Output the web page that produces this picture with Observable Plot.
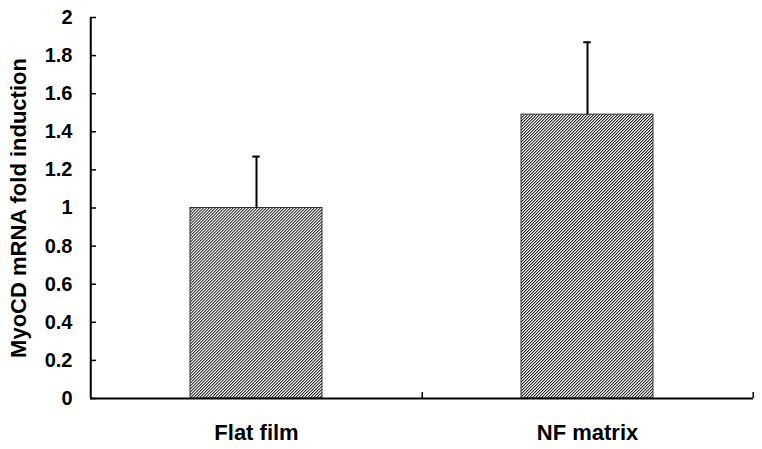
<!DOCTYPE html>
<html><head><meta charset="utf-8">
<script src="https://cdn.jsdelivr.net/npm/d3@7"></script>
<script src="https://cdn.jsdelivr.net/npm/@observablehq/plot@0.6"></script>
<style>body{margin:0;background:#fff} svg{display:block}</style>
</head><body><div id="chart"></div>
<script>
const categories = ["Flat film", "NF matrix"];
const means = [1.0, 1.49];
const errors = [0.27, 0.38];
const yTicks = [0, 0.2, 0.4, 0.6, 0.8, 1, 1.2, 1.4, 1.6, 1.8, 2];
const yLabel = "MyoCD mRNA fold induction";

const data = categories.map((c, i) => ({cat: c, value: means[i], upper: means[i] + errors[i]}));

const W = 762, H = 449, mL = 90, mR = 9, mT = 17, mB = 51;
const plotW = W - mL - mR, plotH = H - mT - mB;
const padInner = 0.6, padOuter = 0.3;
const step = plotW / (categories.length - padInner + 2 * padOuter);
const bw = step * (1 - padInner);
const capW = 8, tickLen = 6;
const font = "'Liberation Sans', Arial, sans-serif";

const chart = Plot.plot({
  width: W, height: H,
  marginLeft: mL, marginRight: mR, marginTop: mT, marginBottom: mB,
  style: {fontFamily: font, color: "#000", background: "#fff"},
  x: {domain: categories, paddingInner: padInner, paddingOuter: padOuter, axis: null},
  y: {domain: [0, 2], axis: null},
  marks: [
    Plot.barY(data, {x: "cat", y: "value", fill: "url(#hatch)", stroke: "#333", strokeWidth: 1}),
    Plot.ruleX(data, {x: "cat", y1: "value", y2: "upper", stroke: "#000", strokeWidth: 2}),
    Plot.tickY(data, {x: "cat", y: "upper", stroke: "#000", strokeWidth: 2, insetLeft: (bw - capW) / 2, insetRight: (bw - capW) / 2}),
    // axis lines
    Plot.ruleY([0], {stroke: "#000", strokeWidth: 2}),
    Plot.ruleX([categories[0]], {x: d => d, dx: -step / 2, stroke: "#000", strokeWidth: 2}),
    // inward ticks
    Plot.tickY(yTicks, {y: d => d, insetRight: plotW - tickLen, stroke: "#000", strokeWidth: 1.5}),
    Plot.tickX(categories, {x: d => d, dx: step / 2, insetTop: plotH - tickLen, stroke: "#000", strokeWidth: 1.5}),
    Plot.axisY(yTicks, {tickSize: 0, tickPadding: 18, fontSize: 20, fontWeight: "bold",
      tickFormat: d => String(+d.toFixed(1)), label: null}),
    Plot.axisY([], {tickSize: 0, fontSize: 22, fontWeight: "bold",
      label: yLabel, labelAnchor: "center", labelOffset: 80, labelArrow: false}),
    Plot.axisX(categories, {tickSize: 0, tickPadding: 26, fontSize: 22, fontWeight: "bold", label: null})
  ]
});

const defs = d3.select(chart).insert("defs", ":first-child");
const p = 2.12;
const pat = defs.append("pattern").attr("id", "hatch").attr("patternUnits", "userSpaceOnUse")
  .attr("width", p).attr("height", p).attr("patternTransform", "rotate(45)");
pat.append("rect").attr("width", p).attr("height", p).attr("fill", "#fff");
pat.append("line").attr("x1", 0.5).attr("y1", 0).attr("x2", 0.5).attr("y2", p)
  .attr("stroke", "#222").attr("stroke-width", 1);

document.getElementById("chart").appendChild(chart);
</script>
</body></html>
